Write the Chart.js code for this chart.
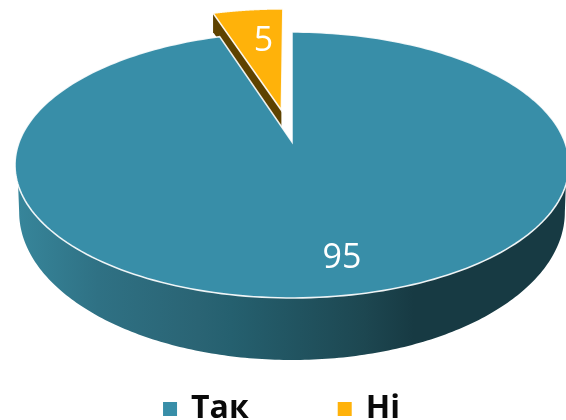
<!DOCTYPE html>
<html>
<head>
<meta charset="utf-8">
<style>
  html, body { margin: 0; padding: 0; background: #fff; overflow: hidden; }
  canvas { display: block; }
</style>
<script src="https://cdn.jsdelivr.net/npm/chart.js@4"></script>
</head>
<body>
<canvas id="pie-chart" width="566" height="420"></canvas>
<script>
var labels = ['Так', 'Ні'];
var values = [95, 5];

var FONT = '"Open Sans", sans-serif';
var squash = 0.48;     // tilt of the disc
var tilt = 0.173;      // moves the pie centre off the ellipse centre (perspective)
var cutDepth = 17;

// turn a point on the unit disc into page pixels
function project(arc, u, v) {
    var w = 1 + tilt * v;
    return {
        x: arc.x + arc.outerRadius * u * Math.sqrt(1 - tilt * tilt) / w,
        y: arc.y - arc.outerRadius * squash * (v + tilt) / w
    };
}

function sliceOrigin(arc) {
    var d = (arc.options.offset || 0) / arc.outerRadius;
    var mid = (arc.startAngle + arc.endAngle) / 2;
    return { u: d * Math.cos(mid), v: -d * Math.sin(mid) };
}

function rimPoint(arc, angle) {
    var o = sliceOrigin(arc);
    return project(arc, o.u + Math.cos(angle), o.v - Math.sin(angle));
}

function tracePolygon(ctx, pts) {
    ctx.beginPath();
    pts.forEach(function(p, i) {
        if (i === 0) ctx.moveTo(p.x, p.y); else ctx.lineTo(p.x, p.y);
    });
    ctx.closePath();
}

function slicePoints(arc) {
    var o = sliceOrigin(arc);
    var pts = [project(arc, o.u, o.v)];
    for (var i = 0; i <= 240; i++) {
        pts.push(rimPoint(arc, arc.startAngle + (arc.endAngle - arc.startAngle) * i / 240));
    }
    return pts;
}

// round side of the big slice, seen from the front
function drawWall(ctx, arc) {
    var R = arc.outerRadius, top = [], bottom = [], i, a;
    for (i = 0; i <= 200; i++) {
        a = (-81.4 + 162.8 * i / 200) * Math.PI / 180;
        top.push({ x: arc.x + R * Math.sin(a), y: arc.y + R * squash * Math.cos(a) });
    }
    for (i = 200; i >= 0; i--) {
        a = (-90 + 180 * i / 200) * Math.PI / 180;
        bottom.push({ x: arc.x + R * 0.985 * Math.sin(a), y: arc.y + 47 + 148 * Math.cos(a) });
    }
    var g = ctx.createLinearGradient(arc.x - R, 0, arc.x + R, 0);
    g.addColorStop(0, '#37869b');
    g.addColorStop(0.15, '#2f7184');
    g.addColorStop(0.33, '#2a6474');
    g.addColorStop(0.39, '#25606f');
    g.addColorStop(0.63, '#1d4751');
    g.addColorStop(0.72, '#173a43');
    g.addColorStop(1, '#173a43');
    tracePolygon(ctx, top.concat(bottom));
    ctx.fillStyle = g;
    ctx.fill();
}

var pie3d = {
    id: 'pie3d',
    afterLayout: function(chart) {
        // legend sits on the bottom edge, its big item gap must not push it up
        chart.legend.left = 0;
        chart.legend.right = chart.width - 1;
        chart.legend.top = 393 - chart.options.plugins.legend.labels.padding;
    },
    beforeDatasetDraw: function(chart, args) {
        var ctx = chart.ctx;
        var arcs = args.meta.data;
        var big = arcs[0], small = arcs[1];
        ctx.save();

        drawWall(ctx, big);

        // cut face below the pulled out slice
        var o = sliceOrigin(small);
        var apex = project(small, o.u, o.v);
        var left = rimPoint(small, small.startAngle);
        tracePolygon(ctx, [apex, left,
            { x: left.x, y: left.y + cutDepth + 2 },
            { x: apex.x, y: apex.y + cutDepth }]);
        ctx.fillStyle = '#5e4200';
        ctx.fill();

        arcs.slice().reverse().forEach(function(arc) {
            tracePolygon(ctx, slicePoints(arc));
            ctx.fillStyle = arc.options.backgroundColor;
            ctx.fill();
            ctx.strokeStyle = 'rgba(255,255,255,0.9)';
            ctx.lineWidth = 1.6;
            ctx.stroke();
        });

        // value labels
        ctx.fillStyle = '#fff';
        ctx.font = '400 34px ' + FONT;
        ctx.textAlign = 'center';
        ctx.textBaseline = 'middle';
        var textAt = [[0.79, 11], [0.65, 5]];
        arcs.forEach(function(arc, i) {
            var so = sliceOrigin(arc);
            var mid = (arc.startAngle + arc.endAngle) / 2;
            var p = project(arc, so.u + textAt[i][0] * Math.cos(mid), so.v - textAt[i][0] * Math.sin(mid));
            ctx.fillText(String(values[i]), p.x + textAt[i][1], p.y);
        });

        ctx.restore();
        return false;
    }
};

new Chart(document.getElementById('pie-chart'), {
    type: 'pie',
    data: {
        labels: labels,
        datasets: [{
            data: values,
            backgroundColor: ['#388ea8', '#ffb20a'],
            borderColor: ['#388ea8', '#ffb20a'],
            borderWidth: 4,   // only the legend squares use this
            offset: [0, 72]
        }]
    },
    options: {
        responsive: false,
        animation: false,
        radius: 277,
        layout: { padding: { left: 18, top: 43 } },
        plugins: {
            tooltip: { enabled: false },
            legend: {
                position: 'bottom',
                labels: {
                    boxWidth: 10,
                    boxHeight: 10,
                    padding: 91,
                    color: '#0a0a0a',
                    font: { family: FONT, size: 32, weight: '700' }
                }
            }
        }
    },
    plugins: [pie3d]
});
</script>
</body>
</html>
